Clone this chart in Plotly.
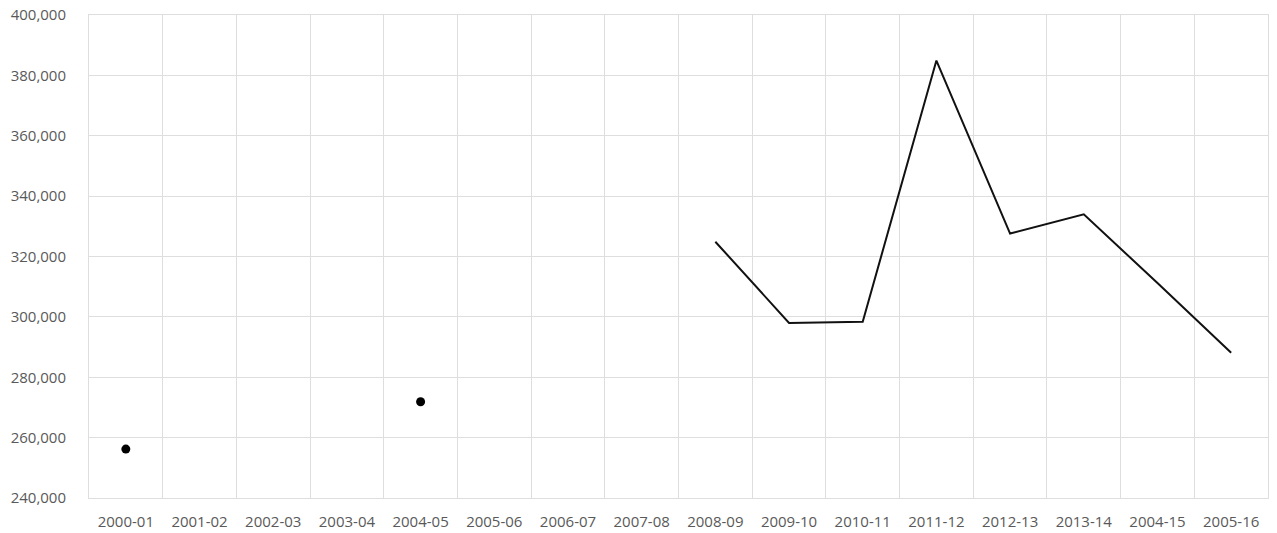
import plotly.graph_objects as go

categories = ["2000-01", "2001-02", "2002-03", "2003-04", "2004-05", "2005-06",
              "2006-07", "2007-08", "2008-09", "2009-10", "2010-11", "2011-12",
              "2012-13", "2013-14", "2004-15", "2005-16"]
values = [256200, None, None, None, 271900, None, None, None,
          324900, 298000, 298400, 384900, 327600, 334000, 311200, 288100]
y_ticks = [240000, 260000, 280000, 300000, 320000, 340000, 360000, 380000, 400000]
y_labels = [f"{v:,}" for v in y_ticks]

# markers only where a point has no neighbours (isolated values)
sizes = []
for i, v in enumerate(values):
    prev_ok = i > 0 and values[i - 1] is not None
    next_ok = i < len(values) - 1 and values[i + 1] is not None
    sizes.append(9 if (v is not None and not prev_ok and not next_ok) else 0)

fig = go.Figure()
fig.add_trace(go.Scatter(
    x=categories, y=values, mode="lines+markers",
    line=dict(color="#111111", width=2),
    marker=dict(color="#000000", size=sizes, line=dict(width=0), opacity=1),
    connectgaps=False, showlegend=False, hoverinfo="x+y",
))

grid = "#dedede"
font = dict(family="Open Sans, Liberation Sans, sans-serif", size=15, color="#595959")
fig.update_layout(
    width=1277, height=533,
    margin=dict(l=89, r=9, t=15, b=35),
    paper_bgcolor="white", plot_bgcolor="white",
    font=font,
)
fig.update_xaxes(
    type="category", categoryorder="array", categoryarray=categories,
    range=[-0.5, len(categories) - 0.5], automargin=False,
    tickson="boundaries", showgrid=True, gridcolor=grid, gridwidth=1,
    showline=True, linecolor=grid, mirror=True, ticks="",
    ticklabelstandoff=10, tickfont=font, fixedrange=True,
)
fig.update_yaxes(
    range=[240000, 400000], tickvals=y_ticks, ticktext=y_labels, automargin=False,
    showgrid=True, gridcolor=grid, gridwidth=1, zeroline=False,
    showline=True, linecolor=grid, mirror=True, ticks="",
    ticklabelstandoff=19, tickfont=font, fixedrange=True,
)

fig.write_html("out.html")
